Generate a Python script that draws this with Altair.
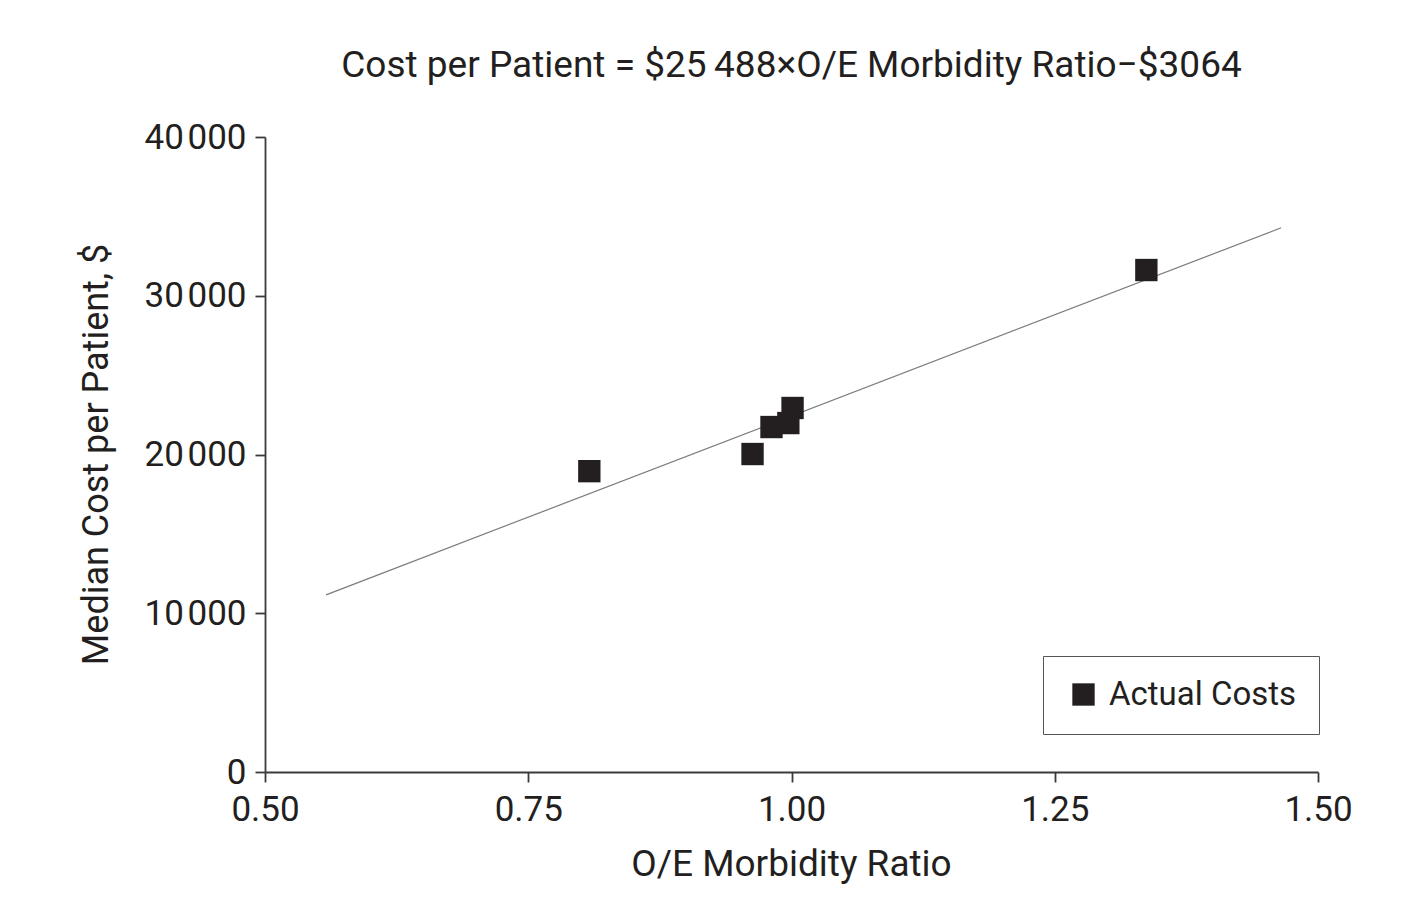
import altair as alt
import pandas as pd

# Data
ratio = [0.808, 0.963, 1.001, 0.997, 0.981, 1.337]
cost = [18950, 20030, 22930, 21980, 21730, 31620]
series = ["Actual Costs"] * len(ratio)

fit_x = [0.558, 1.465]
fit_y = [11160, 34280]

x_ticks = [0.5, 0.75, 1.0, 1.25, 1.5]
y_ticks = [0, 10000, 20000, 30000, 40000]

title_text = "Cost per Patient = $25\u2009488\u00d7O/E Morbidity Ratio\u2212$3064"

FONT = "Roboto"
INK = "#231f20"
AX = "#3a3a3a"

pts = pd.DataFrame({"ratio": ratio, "cost": cost, "series": series})
fit = pd.DataFrame({"ratio": fit_x, "cost": fit_y})

x_enc = alt.X(
    "ratio:Q",
    scale=alt.Scale(domain=[0.5, 1.5], nice=False, zero=False),
    axis=alt.Axis(
        values=x_ticks, format=".2f", title="O/E Morbidity Ratio",
        grid=False, labelFontSize=35, titleFontSize=37, labelFont=FONT, titleFont=FONT,
        labelColor=INK, titleColor=INK, titleFontWeight="normal",
        domainColor=AX, domainWidth=1.8, tickColor=AX, tickWidth=1.8, tickSize=10,
        labelPadding=10, titleX=526, titleY=103, titleBaseline="alphabetic", titleAnchor="middle",
        labelFlush=False, labelOverlap=False,
    ),
)
y_enc = alt.Y(
    "cost:Q",
    scale=alt.Scale(domain=[0, 40000], nice=False),
    axis=alt.Axis(
        values=y_ticks, title="Median Cost per Patient, $",
        labelExpr="replace(format(datum.value, ','), ',', '\u200a')",
        grid=False, labelFontSize=35, titleFontSize=36, labelFont=FONT, titleFont=FONT,
        labelColor=INK, titleColor=INK, titleFontWeight="normal",
        domainColor=AX, domainWidth=1.8, tickColor=AX, tickWidth=1.8, tickSize=10,
        labelPadding=9, titleX=-158, titleY=317, titleAngle=-90, titleBaseline="alphabetic",
        titleAlign="center", labelFlush=False, labelOverlap=False,
    ),
)

line = alt.Chart(fit).mark_line(color="#7a7a7a", strokeWidth=1.2).encode(
    x=alt.X("ratio:Q", scale=alt.Scale(domain=[0.5, 1.5], nice=False, zero=False)),
    y=alt.Y("cost:Q", scale=alt.Scale(domain=[0, 40000], nice=False)),
)

points = alt.Chart(pts).mark_square(size=500, opacity=1).encode(
    x=x_enc,
    y=y_enc,
    color=alt.Color(
        "series:N",
        scale=alt.Scale(domain=["Actual Costs"], range=[INK]),
        legend=alt.Legend(
            title=None, orient="none", legendX=778, legendY=519,
            symbolType="square", symbolSize=500, symbolStrokeWidth=0, symbolOpacity=1,
            labelFontSize=33, labelFont=FONT, labelColor=INK, labelLimit=400,
            padding=22, symbolOffset=2, labelOffset=9,
            strokeColor="#555555", fillColor="white", cornerRadius=0,
        ),
    ),
)

chart = alt.layer(line, points).properties(
    width=1053,
    height=635,
    title=alt.TitleParams(
        text=title_text, font=FONT, fontSize=37, fontWeight="normal", color=INK,
        anchor="middle", offset=35,
    ),
    autosize=alt.AutoSizeParams(type="none"),
    padding={"left": 257, "top": 129, "right": 80, "bottom": 118},
).configure(background="white").configure_view(stroke=None)

chart.save("out.html", embed_options={"renderer": "svg", "actions": False})
